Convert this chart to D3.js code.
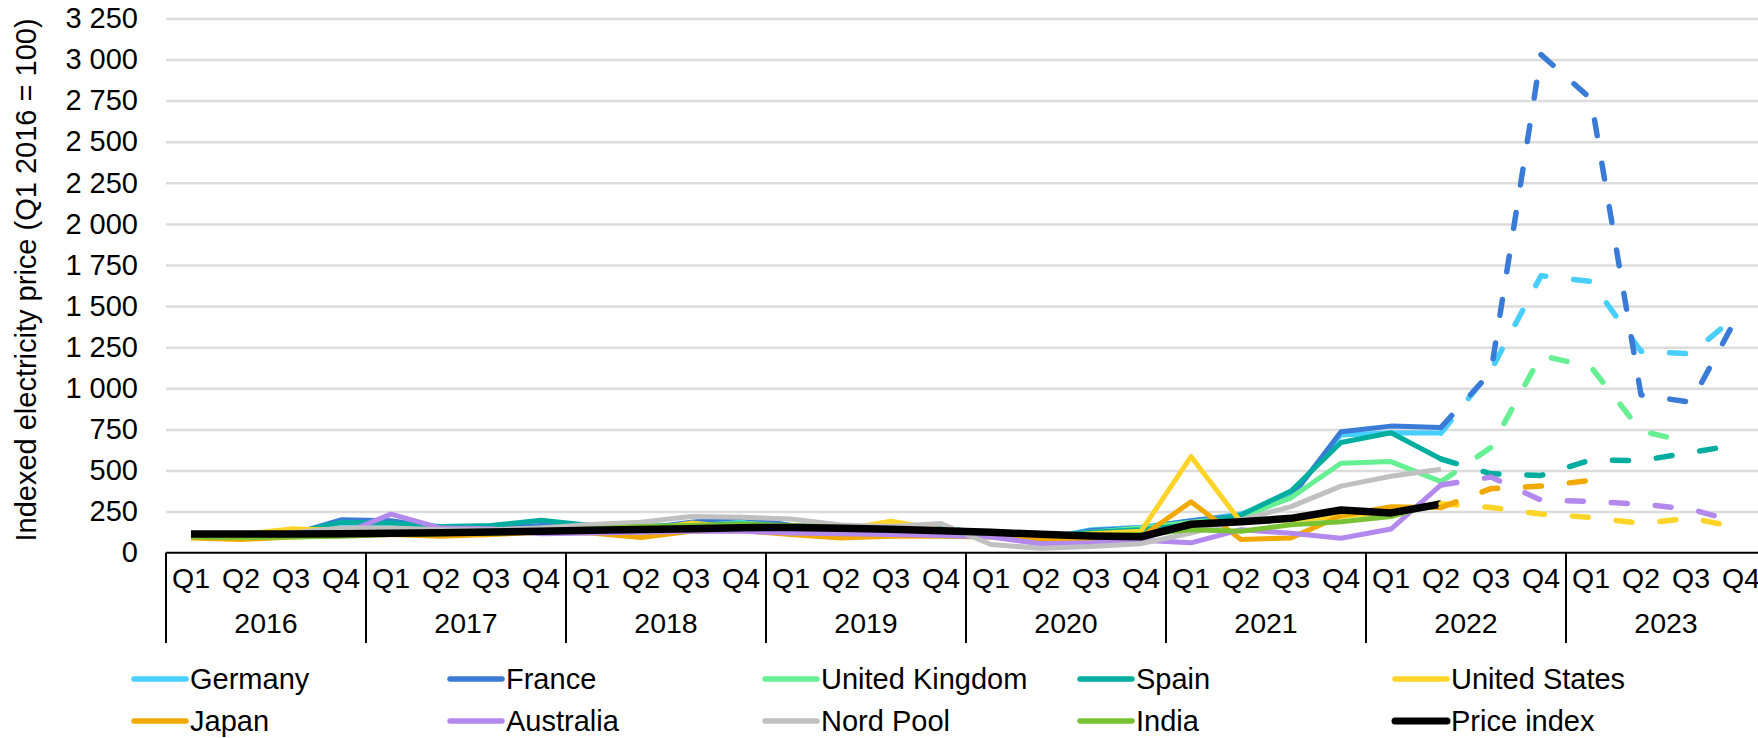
<!DOCTYPE html>
<html>
<head>
<meta charset="utf-8">
<script src="https://cdn.jsdelivr.net/npm/d3@7"></script>
<style>
  body { margin: 0; background: #fff; }
  svg { display: block; font-family: "Liberation Sans", Arial, sans-serif; }
</style>
</head>
<body>
<div id="chart"></div>
<script>
const years = ["2016", "2017", "2018", "2019", "2020", "2021", "2022", "2023"]
const quarterNames = ["Q1", "Q2", "Q3", "Q4"]
const yTicks = [0, 250, 500, 750, 1000, 1250, 1500, 1750, 2000, 2250, 2500, 2750, 3000, 3250]
// index of Q2 2022: last actual quarter, dashed (forecast) from here on
const lastActual = 25

const germany = [100, 95, 105, 160, 170, 150, 150, 160, 155, 150, 175, 210, 165, 150, 145, 150, 115, 80, 140, 155, 195, 235, 350, 716, 730, 728, 1110, 1685, 1650, 1225, 1210, 1465]
const france = [100, 90, 110, 200, 195, 150, 150, 165, 160, 145, 185, 215, 165, 150, 145, 145, 110, 75, 135, 150, 195, 225, 335, 736, 770, 762, 1100, 3030, 2760, 960, 915, 1480]
const uk = [100, 95, 105, 130, 150, 140, 135, 150, 160, 150, 165, 180, 160, 145, 140, 145, 120, 90, 125, 150, 185, 215, 335, 544, 554, 432, 640, 1200, 1130, 740, 670, null]
const spain = [100, 95, 115, 185, 180, 160, 165, 197, 165, 160, 170, 175, 160, 150, 150, 145, 120, 90, 125, 140, 170, 230, 375, 670, 730, 570, 480, 470, 565, 560, 610, 660]
const us = [100, 110, 145, 135, 115, 120, 120, 125, 130, 135, 180, 150, 140, 140, 192, 140, 115, 95, 115, 130, 585, 185, 200, 220, 250, 298, 275, 235, 215, 178, 210, 150]
const japan = [90, 80, 95, 105, 110, 100, 110, 125, 120, 92, 130, 135, 110, 90, 100, 100, 95, 85, 75, 95, 310, 80, 90, 225, 280, 275, 390, 405, 440, null, null, null]
const australia = [110, 105, 115, 110, 235, 150, 145, 115, 120, 125, 130, 130, 120, 115, 110, 105, 95, 55, 60, 75, 60, 140, 118, 88, 144, 412, 460, 320, 312, 295, 265, 180]
const nordPool = [100, 95, 120, 150, 150, 140, 140, 150, 172, 185, 220, 215, 205, 168, 160, 178, 50, 27, 37, 55, 120, 200, 280, 405, 465, 507]
const india = [95, 92, 95, 100, 110, 115, 120, 130, 145, 160, 165, 172, 165, 155, 145, 135, 120, 110, 105, 110, 140, 130, 170, 188, 220, 307]
const priceIndex = [114, 114, 114, 115, 118, 122, 126, 130, 136, 141, 146, 152, 154, 148, 142, 134, 124, 112, 102, 97, 173, 188, 209, 260, 242, 296]

const series = [
    {name: "Germany", color: "#48cfff", values: germany},
    {name: "France", color: "#3b7bd8", values: france},
    {name: "United Kingdom", color: "#66ef93", values: uk},
    {name: "Spain", color: "#00ad9f", values: spain},
    {name: "United States", color: "#ffd429", values: us},
    {name: "Japan", color: "#f1a900", values: japan},
    {name: "Australia", color: "#b489ee", values: australia},
    {name: "Nord Pool", color: "#c0c0c0", values: nordPool},
    {name: "India", color: "#79c234", values: india},
    {name: "Price index", color: "#000000", values: priceIndex, width: 7.5}
]

const W = 1758, H = 738
const margin = {top: 18.4, left: 166, bottom: 552.7}
const plotRight = 166 + 1600

const svg = d3.select("#chart").append("svg").attr("width", W).attr("height", H)

const quarters = []
years.forEach(yr => quarterNames.forEach(q => quarters.push(yr + " " + q)))

const x = d3.scaleBand().domain(quarters).range([margin.left, plotRight])
const xYear = d3.scaleBand().domain(years).range([margin.left, plotRight])
const y = d3.scaleLinear().domain([0, 3250]).range([margin.bottom, margin.top])

const fmt = d3.formatLocale({decimal: ".", thousands: " ", grouping: [3], currency: ["", ""]}).format(",d")

// gridlines
svg.append("g")
    .attr("transform", "translate(" + margin.left + ",0)")
    .call(d3.axisLeft(y).tickValues(yTicks.slice(1)).tickSize(-(W - margin.left)).tickFormat(""))
    .call(g => g.select(".domain").remove())
    .call(g => g.selectAll("line").attr("stroke", "#dcdcdc").attr("stroke-width", 2.5))

// y labels
svg.append("g")
    .attr("transform", "translate(" + margin.left + ",0)")
    .call(d3.axisLeft(y).tickValues(yTicks).tickSize(0).tickPadding(28).tickFormat(fmt))
    .call(g => g.select(".domain").remove())
    .call(g => g.selectAll("text").attr("font-size", 29).attr("fill", "#000").attr("font-family", "Liberation Sans, Arial, sans-serif"))

svg.append("text")
    .attr("transform", "translate(36,280) rotate(-90)")
    .attr("text-anchor", "middle")
    .attr("font-size", 29)
    .text("Indexed electricity price (Q1 2016 = 100)")

// lines
const line = d3.line()
    .defined(d => d.v != null)
    .x(d => x(quarters[d.i]) + x.bandwidth() / 2)
    .y(d => y(d.v))

const pts = s => s.values.map((v, i) => ({i: i, v: v}))

series.forEach(s => {
    svg.append("path")
        .datum(pts(s).filter(d => d.i <= lastActual))
        .attr("d", line)
        .attr("fill", "none")
        .attr("stroke", s.color)
        .attr("stroke-width", s.width || 5)
        .attr("stroke-linejoin", "round")
})

series.forEach(s => {
    let fc = pts(s).filter(d => d.i >= lastActual && d.v != null)
    if (fc.length < 2) return
    svg.append("path")
        .datum(fc)
        .attr("d", line)
        .attr("fill", "none")
        .attr("stroke", s.color)
        .attr("stroke-width", 5.5)
        .attr("stroke-linecap", "round")
        .attr("stroke-linejoin", "round")
        .attr("stroke-dasharray", "16 28")
})

// category axis
svg.append("line")
    .attr("x1", margin.left).attr("x2", W)
    .attr("y1", margin.bottom).attr("y2", margin.bottom)
    .attr("stroke", "#000").attr("stroke-width", 2)

svg.append("g")
    .attr("transform", "translate(0," + margin.bottom + ")")
    .call(d3.axisBottom(x).tickSize(0).tickPadding(15.5).tickFormat(d => d.split(" ")[1]))
    .call(g => g.select(".domain").remove())
    .call(g => g.selectAll("text").attr("font-size", 28.5).attr("fill", "#000").attr("font-family", "Liberation Sans, Arial, sans-serif"))

svg.append("g")
    .attr("transform", "translate(0," + margin.bottom + ")")
    .call(d3.axisBottom(xYear).tickSize(0).tickPadding(60.5))
    .call(g => g.select(".domain").remove())
    .call(g => g.selectAll("text").attr("font-size", 28.5).attr("fill", "#000").attr("font-family", "Liberation Sans, Arial, sans-serif"))

svg.append("g").selectAll("line")
    .data(years.concat(["end"]))
    .enter().append("line")
    .attr("x1", d => d === "end" ? plotRight : xYear(d))
    .attr("x2", d => d === "end" ? plotRight : xYear(d))
    .attr("y1", margin.bottom)
    .attr("y2", 643)
    .attr("stroke", "#000").attr("stroke-width", 2)

// legend
const legendCols = [132, 448, 763, 1078, 1393]
const legendRows = [679, 721]
const legend = svg.append("g").selectAll("g")
    .data(series)
    .enter().append("g")
    .attr("transform", (d, i) => "translate(" + legendCols[i % 5] + "," + legendRows[Math.floor(i / 5)] + ")")

legend.append("line")
    .attr("x1", 2).attr("x2", 54)
    .attr("stroke", d => d.color)
    .attr("stroke-width", d => d.width ? 7 : 5.5)
    .attr("stroke-linecap", "round")

legend.append("text")
    .attr("x", 58)
    .attr("dy", "0.35em")
    .attr("font-size", 29)
    .text(d => d.name)
</script>
</body>
</html>
